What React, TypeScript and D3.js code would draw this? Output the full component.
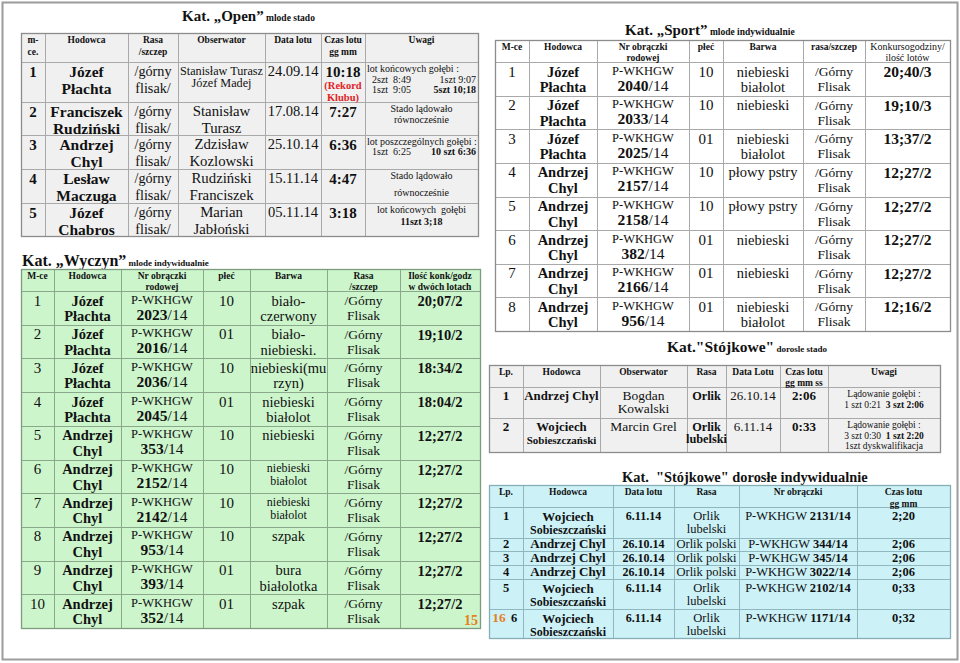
import React from "react";
import * as d3 from "d3";

const FONT = "'Liberation Serif','Times New Roman',Times,serif";

// ---------------- DATA ----------------
// Kat. „Open” młode stado
const openHeaders = ["m-\nce.", "Hodowca", "Rasa\n/szczep", "Obserwator", "Data lotu", "Czas lotu\ngg mm", "Uwagi"];
const openPlaces = ["1", "2", "3", "4", "5"];
const openBreeders = ["Józef\nPłachta", "Franciszek\nRudziński", "Andrzej\nChyl", "Lesław\nMaczuga", "Józef\nChabros"];
const openBreeds = ["/górny\nflisak/", "/górny\nflisak/", "/górny\nflisak/", "/górny\nflisak/", "/górny\nflisak/"];
const openObservers = ["Stanisław Turasz\nJózef Madej", "Stanisław\nTurasz", "Zdzisław\nKozlowski", "Rudziński\nFranciszek", "Marian\nJabłoński"];
const openDates = ["24.09.14", "17.08.14", "25.10.14", "15.11.14", "05.11.14"];
const openTimes = ["10:18", "7:27", "6:36", "4:47", "3:18"];
const openRecords = ["(Rekord\nKlubu)", "", "", "", ""];
const openNotes = [
  "lot końcowych gołębi :\n2szt  8:49\t1szt 9:07\n1szt  9:05\t**5szt 10;18**",
  "Stado lądowało\nrównocześnie",
  "lot poszczególnych gołębi :\n1szt  6:25\t**10 szt 6:36**",
  "Stado lądowało\nrównocześnie",
  "lot końcowych  gołębi\n**11szt 3;18**",
];

// Kat. „Wyczyn” młode indywidualnie
const wyczynHeaders = ["M-ce", "Hodowca", "Nr obrączki\nrodowej", "płeć", "Barwa", "Rasa\n/szczep", "Ilość konk/godz\nw dwóch lotach"];
const wyczynPlaces = ["1", "2", "3", "4", "5", "6", "7", "8", "9", "10"];
const wyczynBreeders = ["Józef\nPłachta", "Józef\nPłachta", "Józef\nPłachta", "Józef\nPłachta", "Andrzej\nChyl", "Andrzej\nChyl", "Andrzej\nChyl", "Andrzej\nChyl", "Andrzej\nChyl", "Andrzej\nChyl"];
const wyczynRings = ["2023/14", "2016/14", "2036/14", "2045/14", "353/14", "2152/14", "2142/14", "953/14", "393/14", "352/14"];
const wyczynSex = ["10", "01", "10", "01", "10", "10", "10", "10", "01", "01"];
const wyczynColours = ["biało-\nczerwony", "biało-\nniebieski.", "niebieski(mu\nrzyn)", "niebieski\nbiałolot", "niebieski", "niebieski\nbiałolot", "niebieski\nbiałolot", "szpak", "bura\nbiałolotka", "szpak"];
const wyczynBreeds = ["/Górny\nFlisak", "/Górny\nFlisak", "/Górny\nFlisak", "/Górny\nFlisak", "/Górny\nFlisak", "/Górny\nFlisak", "/Górny\nFlisak", "/Górny\nFlisak", "/Górny\nFlisak", "/Górny\nFlisak"];
const wyczynScores = ["20;07/2", "19;10/2", "18:34/2", "18:04/2", "12;27/2", "12;27/2", "12;27/2", "12;27/2", "12;27/2", "12;27/2"];

// Kat. „Sport” młode indywidualnie
const sportHeaders = ["M-ce", "Hodowca", "Nr obrączki\nrodowej", "płeć", "Barwa", "rasa/szczep", "Konkursogodziny/\nilość lotów"];
const sportPlaces = ["1", "2", "3", "4", "5", "6", "7", "8"];
const sportBreeders = ["Józef\nPłachta", "Józef\nPłachta", "Józef\nPłachta", "Andrzej\nChyl", "Andrzej\nChyl", "Andrzej\nChyl", "Andrzej\nChyl", "Andrzej\nChyl"];
const sportRings = ["2040/14", "2033/14", "2025/14", "2157/14", "2158/14", "382/14", "2166/14", "956/14"];
const sportSex = ["10", "10", "01", "10", "10", "01", "01", "01"];
const sportColours = ["niebieski\nbiałolot", "niebieski", "niebieski\nbiałolot", "płowy pstry", "płowy pstry", "niebieski", "niebieski", "niebieski\nbiałolot"];
const sportBreeds = ["/Górny\nFlisak", "/Górny\nFlisak", "/Górny\nFlisak", "/Górny\nFlisak", "/Górny\nFlisak", "/Górny\nFlisak", "/Górny\nFlisak", "/Górny\nFlisak"];
const sportScores = ["20;40/3", "19;10/3", "13;37/2", "12;27/2", "12;27/2", "12;27/2", "12;27/2", "12;16/2"];

// Kat. "Stójkowe" dorosłe stado
const flockHeaders = ["Lp.", "Hodowca", "Obserwator", "Rasa", "Data Lotu", "Czas lotu\ngg mm ss", "Uwagi"];
const flockPlaces = ["1", "2"];
const flockBreeders = ["Andrzej Chyl", "Wojciech\nSobieszczański"];
const flockObservers = ["Bogdan\nKowalski", "Marcin Grel"];
const flockBreeds = ["Orlik", "Orlik\nlubelski"];
const flockDates = ["26.10.14", "6.11.14"];
const flockTimes = ["2:06", "0:33"];
const flockNotes = ["Lądowanie gołębi :\n1 szt 0:21  **3 szt 2:06**", "Lądowanie gołębi :\n3 szt 0:30  **1 szt 2:20**\n1szt dyskwalifikacja"];

// Kat. "Stójkowe" dorosłe indywidualnie
const indivHeaders = ["Lp.", "Hodowca", "Data lotu", "Rasa", "Nr obrączki", "Czas lotu\ngg mm"];
const indivPlaces = ["1", "2", "3", "4", "5", "6"];
const indivBreeders = ["Wojciech\nSobieszczański", "Andrzej Chyl", "Andrzej Chyl", "Andrzej Chyl", "Wojciech\nSobieszczański", "Wojciech\nSobieszczański"];
const indivDates = ["6.11.14", "26.10.14", "26.10.14", "26.10.14", "6.11.14", "6.11.14"];
const indivBreeds = ["Orlik\nlubelski", "Orlik polski", "Orlik polski", "Orlik polski", "Orlik\nlubelski", "Orlik\nlubelski"];
const indivRings = ["2131/14", "344/14", "345/14", "3022/14", "2102/14", "1171/14"];
const indivTimes = ["2;20", "2;06", "2;06", "2;06", "0;33", "0;32"];

const ringPrefix = "P-WKHGW";
const pageNumbers = ["15", "16"];

// ---------------- LAYOUT / STYLE ----------------
const RED = "#e3221f";
const ORANGE = "#e67e22";
const INK = "#111";

type Block = {
  text: string; size: number; bold?: boolean; top: number; lh?: number;
  align?: "start" | "middle" | "end"; fill?: string; dx?: number; longLen?: number; longSize?: number; tabL?: number;
};

function boldNum(ring: string) {
  const [n, y] = ring.split("/");
  return `**${n}**/${y}`;
}

function Rich({ text, x, y, size, bold, fill, anchor }: any) {
  const parts = text.split("**");
  return (
    <text x={x} y={y} fontSize={size} fontFamily={FONT} textAnchor={anchor} fill={fill || INK} style={{ whiteSpace: "pre" }}>
      {parts.map((p: string, i: number) =>
        p ? (
          <tspan key={i} fontWeight={(i % 2 === 1) !== !!bold ? "bold" : "normal"}>{p}</tspan>
        ) : null
      )}
    </text>
  );
}

function BlockView({ b, x0, x1, y0 }: { b: Block; x0: number; x1: number; y0: number }) {
  if (!b.text) return null;
  const lines = b.text.split("\n");
  const lh = b.lh ?? b.size * 1.1;
  return (
    <g>
      {lines.map((ln, k) => {
        const y = y0 + b.top + k * lh;
        const size = b.longLen && ln.length > b.longLen ? b.longSize! : b.size;
        if (ln.includes("\t")) {
          const [l, r] = ln.split("\t");
          return (
            <g key={k}>
              <Rich text={l} x={x0 + (b.tabL ?? 6)} y={y} size={size} bold={b.bold} fill={b.fill} anchor="start" />
              <Rich text={r} x={x1 - 2} y={y} size={size} bold={b.bold} fill={b.fill} anchor="end" />
            </g>
          );
        }
        const align = b.align ?? "middle";
        const x = (align === "start" ? x0 + 2 : align === "end" ? x1 - 2 : (x0 + x1) / 2) + (b.dx ?? 0);
        return <Rich key={k} text={ln} x={x} y={y} size={size} bold={b.bold} fill={b.fill} anchor={align} />;
      })}
    </g>
  );
}

function Table({ edges, top, headerBottom, rows, headers, headerStyle, cols, bg, grid, outline }: any) {
  const x0 = edges[0];
  const x1 = edges[edges.length - 1];
  const bottom = rows[rows.length - 1][1];
  const hs = [top, headerBottom, ...rows.map((r: number[]) => r[1])];
  return (
    <g>
      <rect x={x0} y={top} width={x1 - x0} height={bottom - top} fill={bg} />
      {hs.map((y: number, i: number) => (
        <line key={"h" + i} x1={x0} x2={x1} y1={Math.round(y) + 0.5} y2={Math.round(y) + 0.5} stroke={grid} strokeWidth={1} />
      ))}
      {edges.map((x: number, i: number) => (
        <line key={"v" + i} x1={Math.round(x) + 0.5} x2={Math.round(x) + 0.5} y1={top} y2={bottom} stroke={grid} strokeWidth={1} />
      ))}
      <rect x={x0 + 0.5} y={top + 0.5} width={x1 - x0} height={bottom - top} fill="none" stroke={outline} strokeWidth={1.3} />
      {headers.map((h: string, c: number) => (
        <BlockView key={"hd" + c} b={{ text: h, ...headerStyle(c) }} x0={edges[c]} x1={edges[c + 1]} y0={top} />
      ))}
      {rows.map(([ry0, ry1]: number[], r: number) =>
        cols.map((col: any, c: number) =>
          col(r, ry1 - ry0).map((b: Block, k: number) => (
            <BlockView key={`${r}-${c}-${k}`} b={b} x0={edges[c]} x1={edges[c + 1]} y0={ry0} />
          ))
        )
      )}
    </g>
  );
}

function bandRows(domain: string[], y0: number, y1: number) {
  const s = d3.scaleBand<string>().domain(domain).range([y0, y1]).paddingInner(0).paddingOuter(0);
  return domain.map((d) => [s(d)!, s(d)! + s.bandwidth()]);
}

function cumRows(heights: number[], y0: number) {
  const ends = Array.from(d3.cumsum(heights), (v) => v + y0);
  return ends.map((e, i) => [i === 0 ? y0 : ends[i - 1], e]);
}

function Title({ x, y, big, small, bigSize, smallSize, anchor = "start" }: any) {
  return (
    <text x={x} y={y} fontFamily={FONT} fontWeight="bold" fill={INK} textAnchor={anchor} style={{ whiteSpace: "pre" }}>
      <tspan fontSize={bigSize}>{big}</tspan>
      <tspan fontSize={smallSize}>{small}</tspan>
    </text>
  );
}

const hdr = (size = 9.5, top = 10, lh = 11.5) => (_c: number) => ({ size, bold: true, top, lh });

export default function App() {
  // Open
  const openRows = cumRows([40, 33, 34, 34, 33], 62);
  const openNoteAlign: any[] = ["start", "middle", "start", "middle", "middle"];
  const openNoteLH = [10.8, 11, 10, 17, 12];
  const openCols = [
    (r: number) => [{ text: openPlaces[r], size: 15, bold: true, top: 15 }],
    (r: number) => [{ text: openBreeders[r], size: 15.5, bold: true, top: 14.5, lh: 17 }],
    (r: number) => [{ text: openBreeds[r], size: 14.2, top: 14, lh: 17 }],
    (r: number) =>
      openObservers[r].split("\n").some((l) => l.length > 12)
        ? [{ text: openObservers[r], size: 12.2, top: 12.5, lh: 12.5 }]
        : [{ text: openObservers[r], size: 14.8, top: 14, lh: 17 }],
    (r: number) => [{ text: openDates[r], size: 14.5, top: 13.5 }],
    (r: number) => [
      { text: openTimes[r], size: 15, bold: true, top: 15 },
      { text: openRecords[r], size: 10.5, bold: true, top: 26.5, lh: 12, fill: RED },
    ],
    (r: number) => [{ text: openNotes[r], size: 10, top: 9.8, lh: openNoteLH[r], align: openNoteAlign[r], tabL: 7 }],
  ];

  // Wyczyn
  const wyRows = bandRows(wyczynPlaces, 291, 628);
  const wySmall = [5, 6];
  const wyCols = [
    (r: number) => [{ text: wyczynPlaces[r], size: 15, top: 14.5 }],
    (r: number) => [{ text: wyczynBreeders[r], size: 14.5, bold: true, top: 14.5, lh: 15.5 }],
    (r: number) => [
      { text: ringPrefix, size: 12.5, top: 12.5 },
      { text: boldNum(wyczynRings[r]), size: 15.5, top: 28.5 },
    ],
    (r: number) => [{ text: wyczynSex[r], size: 15, top: 14.5 }],
    (r: number) =>
      wySmall.includes(r)
        ? [{ text: wyczynColours[r], size: 12, top: 12.5, lh: 13 }]
        : [{ text: wyczynColours[r], size: 14.5, top: 14.5, lh: 15.5 }],
    (r: number) => [{ text: wyczynBreeds[r], size: 13.5, top: 14, lh: 15 }],
    (r: number) => [{ text: wyczynScores[r], size: 14.5, bold: true, top: 15 }],
  ];

  // Sport
  const spRows = bandRows(sportPlaces, 62, 331);
  const spCols = [
    (r: number) => [{ text: sportPlaces[r], size: 15, top: 14.5 }],
    (r: number) => [{ text: sportBreeders[r], size: 14.5, bold: true, top: 14.5, lh: 15.5 }],
    (r: number) => [
      { text: ringPrefix, size: 12.5, top: 12.5 },
      { text: boldNum(sportRings[r]), size: 15.5, top: 28.5 },
    ],
    (r: number) => [{ text: sportSex[r], size: 15, top: 14.5 }],
    (r: number) => [{ text: sportColours[r], size: 14.5, top: 14.5, lh: 15.5 }],
    (r: number) => [{ text: sportBreeds[r], size: 13.5, top: 14, lh: 15 }],
    (r: number) => [{ text: sportScores[r], size: 15.5, bold: true, top: 15 }],
  ];
  const spHeader = (c: number) => ({ size: c === 6 ? 10 : 9.5, bold: c !== 6, top: 9.8, lh: 11 });

  // Stójkowe stado
  const flRows = cumRows([31, 34], 387);
  const flCols = [
    (r: number) => [{ text: flockPlaces[r], size: 13, bold: true, top: 12.5 }],
    (r: number) => [{ text: flockBreeders[r], size: 12.8, bold: true, top: 12.5, lh: 13, longLen: 12, longSize: 11 }],
    (r: number) => [{ text: flockObservers[r], size: 13.5, top: 12.5, lh: 13.5 }],
    (r: number) => [{ text: flockBreeds[r], size: 12.3, bold: true, top: 12.5, lh: 12.8 }],
    (r: number) => [{ text: flockDates[r], size: 13, top: 12.5 }],
    (r: number) => [{ text: flockTimes[r], size: 13, bold: true, top: 12.5 }],
    (r: number) => [{ text: flockNotes[r], size: 9.5, top: 10, lh: 10.5 }],
  ];

  // Stójkowe indywidualne
  const inRows = cumRows([31, 13, 14, 14, 30, 29], 507);
  const base = (h: number) => Math.min(12.5, h - 2.6);
  const inCols = [
    (r: number, h: number) => [{ text: indivPlaces[r], size: 12.5, bold: true, top: base(h), dx: r === 5 ? 8 : 0 }],
    (r: number, h: number) => [{ text: indivBreeders[r], size: 13, bold: true, top: Math.min(13.5, h - 2.6), lh: 13.8, longLen: 12, longSize: 12 }],
    (r: number, h: number) => [{ text: indivDates[r], size: 12, bold: true, top: base(h) }],
    (r: number, h: number) => [{ text: indivBreeds[r], size: 12.5, top: base(h), lh: 13.8 }],
    (r: number, h: number) => [{ text: `${ringPrefix} **${indivRings[r]}**`, size: 12.5, top: base(h) }],
    (r: number, h: number) => [{ text: indivTimes[r], size: 12.5, bold: true, top: base(h) }],
  ];

  return (
    <svg width={960} height={663} style={{ position: "absolute", left: 0, top: 0, background: "#fff" }}>
      <rect x={0} y={0} width={960} height={663} fill="#fff" />
      <rect x={2.5} y={2.5} width={955} height={657} fill="none" stroke="#9c9c9c" strokeWidth={2} />

      {/* Open */}
      <Title x={182} y={21} big="Kat. „Open”" small=" mlode stado" bigSize={15} smallSize={9.5} />
      <Table edges={[21, 45, 128, 178, 265, 321, 365, 478]} top={33} headerBottom={62} rows={openRows}
        headers={openHeaders} headerStyle={hdr(9.5, 10, 11.5)} cols={openCols}
        bg="#f0f0f0" grid="#a9a9a9" outline="#8c8c8c" />

      {/* Wyczyn */}
      <Title x={22} y={266} big="Kat. „Wyczyn”" small=" mlode indywidualnie" bigSize={16} smallSize={9} />
      <Table edges={[21, 54, 121, 203, 250, 327, 400, 480]} top={269} headerBottom={291} rows={wyRows}
        headers={wyczynHeaders} headerStyle={hdr(9.5, 9.5, 11)} cols={wyCols}
        bg="#ccf5cc" grid="#8aa88a" outline="#7d9b7d" />
      <text x={478} y={625} textAnchor="end" fontFamily={FONT} fontWeight="bold" fontSize={14} fill={ORANGE}>{pageNumbers[0]}</text>

      {/* Sport */}
      <Title x={625} y={35} big="Kat. „Sport”" small=" mlode indywidualnie" bigSize={15} smallSize={9.5} />
      <Table edges={[495, 529, 597, 689, 723, 803, 865, 950]} top={40} headerBottom={62} rows={spRows}
        headers={sportHeaders} headerStyle={spHeader} cols={spCols}
        bg="#ffffff" grid="#a9a9a9" outline="#8c8c8c" />

      {/* Stójkowe stado */}
      <Title x={667} y={352} big={"Kat.\"Stójkowe\""} small=" dorosle stado" bigSize={15.5} smallSize={9} />
      <Table edges={[489, 523, 600, 687, 726, 780, 828, 940]} top={365} headerBottom={387} rows={flRows}
        headers={flockHeaders} headerStyle={hdr(9.5, 9.8, 11)} cols={flCols}
        bg="#f0f0f0" grid="#a9a9a9" outline="#8c8c8c" />

      {/* Stójkowe indywidualne */}
      <Title x={622} y={482} big={"Kat.  \"Stójkowe\" dorosłe indywidualnie"} small="" bigSize={14.4} smallSize={9} />
      <Table edges={[489, 523, 613, 674, 739, 857, 950]} top={485} headerBottom={507} rows={inRows}
        headers={indivHeaders} headerStyle={hdr(9.5, 9.8, 12)} cols={inCols}
        bg="#ccf2f8" grid="#8fb7bd" outline="#86aeb4" />
      <text x={499} y={622} textAnchor="middle" fontFamily={FONT} fontWeight="bold" fontSize={13.5} fill={ORANGE}>{pageNumbers[1]}</text>
    </svg>
  );
}
